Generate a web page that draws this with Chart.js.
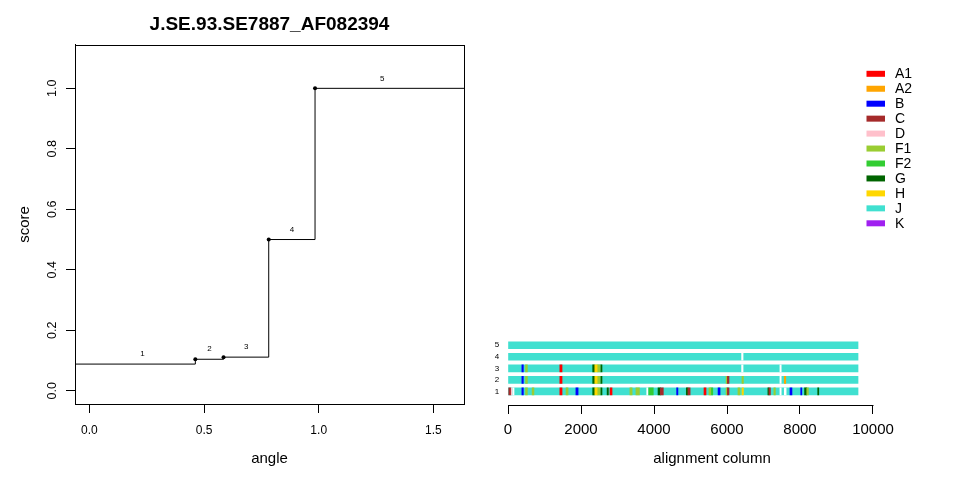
<!DOCTYPE html>
<html><head><meta charset="utf-8">
<script src="https://cdn.jsdelivr.net/npm/chart.js@4.4.1/dist/chart.umd.min.js"></script>
<style>
html,body{margin:0;padding:0;background:#fff;}
#wrap{position:relative;width:960px;height:480px;overflow:hidden;background:#fff;}
.box{position:absolute;top:0;width:480px;height:480px;}
</style></head><body>
<div id="wrap">
<div class="box" style="left:0"><canvas id="c1" width="480" height="480"></canvas></div>
<div class="box" style="left:480px"><canvas id="c2" width="480" height="480"></canvas></div>
</div>
<script>
// ---------- left panel data ----------
const chartTitle = 'J.SE.93.SE7887_AF082394';
const segLabels = ['1', '2', '3', '4', '5'];
const segStart = [0, 0.462, 0.585, 0.782, 0.984];
const segEnd = [0.462, 0.585, 0.782, 0.984, 1.5708];
const segScore = [0.088, 0.104, 0.111, 0.5, 1.0];
const angleTicks = [0, 0.5, 1.0, 1.5];
const angleTickLabels = ['0.0', '0.5', '1.0', '1.5'];
const scoreTicks = [0, 0.2, 0.4, 0.6, 0.8, 1.0];
const scoreTickLabels = ['0.0', '0.2', '0.4', '0.6', '0.8', '1.0'];
const ANGLE_MIN = -0.0628, ANGLE_MAX = 1.6336;
const SCORE_MIN = -0.044, SCORE_MAX = 1.144;

// ---------- right panel data ----------
const subtypes = ['A1', 'A2', 'B', 'C', 'D', 'F1', 'F2', 'G', 'H', 'J', 'K'];
const subtypeColors = ['#FF0000', '#FFA500', '#0000FF', '#A52A2A', '#FFC0CB', '#9ACD32', '#32CD32', '#006400', '#FFD700', '#40E0D0', '#A020F0'];
const rows = [1, 2, 3, 4, 5];
const rowLength = 9590;
const columnTicks = [0, 2000, 4000, 6000, 8000, 10000];
const columnTickLabels = ['0', '2000', '4000', '6000', '8000', '10000'];
const COL_MIN = -447, COL_MAX = 11625;
// [start, end, subtype]   ('gap' = no sequence)
const row1Segments = [
  [20, 70, 'C'], [70, 110, 'D'], [130, 165, 'gap'], [380, 420, 'B'], [480, 530, 'F1'], [660, 710, 'F1'],
  [1420, 1480, 'A1'], [1590, 1645, 'F1'], [1860, 1920, 'B'], [2320, 2360, 'G'], [2360, 2460, 'H'],
  [2460, 2520, 'F1'], [2540, 2575, 'G'], [2715, 2750, 'G'], [2795, 2850, 'A1'], [3340, 3400, 'F1'],
  [3505, 3600, 'F1'], [3800, 3830, 'gap'], [3855, 3980, 'F2'], [4110, 4175, 'G'], [4175, 4255, 'C'],
  [4620, 4655, 'B'], [4885, 4930, 'G'], [4930, 4990, 'C'], [5370, 5425, 'A1'], [5505, 5555, 'F1'],
  [5560, 5610, 'F2'], [5755, 5810, 'B'], [5975, 6010, 'F1'], [6010, 6055, 'C'], [6300, 6355, 'F1'],
  [6410, 6450, 'H'], [7120, 7150, 'G'], [7150, 7190, 'C'], [7285, 7325, 'F1'], [7450, 7485, 'gap'],
  [7570, 7620, 'gap'], [7725, 7780, 'B'], [8020, 8050, 'B'], [8125, 8185, 'G'], [8185, 8230, 'F1'],
  [8485, 8515, 'G']
];
const row2Segments = [
  [380, 420, 'B'], [480, 530, 'F1'], [1420, 1480, 'A1'], [2320, 2360, 'G'], [2360, 2460, 'H'],
  [2460, 2520, 'F1'], [2540, 2575, 'G'], [5975, 6010, 'F1'], [6010, 6055, 'C'], [6410, 6450, 'F1'],
  [7450, 7485, 'gap'], [7570, 7610, 'A2']
];
const row3Segments = [
  [380, 420, 'B'], [480, 530, 'F1'], [1420, 1480, 'A1'], [2320, 2360, 'G'], [2360, 2460, 'H'],
  [2460, 2520, 'F1'], [2540, 2575, 'G'], [6400, 6440, 'gap'], [7450, 7485, 'gap']
];
const row4Segments = [[6400, 6440, 'gap']];
const row5Segments = [];

Chart.defaults.font.family = "'Liberation Sans', Arial, Helvetica, sans-serif";
Chart.defaults.color = '#000';

// ---------- plugins ----------
const boxPlugin = {
  id: 'box',
  afterDraw(chart) {
    const {ctx, chartArea: a} = chart;
    ctx.save();
    ctx.strokeStyle = '#000';
    ctx.lineWidth = 1;
    ctx.strokeRect(Math.round(a.left) + 0.5, Math.round(a.top) + 0.5, Math.round(a.right - a.left), Math.round(a.bottom - a.top));
    ctx.restore();
  }
};
const segLabelPlugin = {
  id: 'segLabels',
  afterDatasetsDraw(chart) {
    const {ctx, scales: {x, y}} = chart;
    ctx.save();
    ctx.fillStyle = '#000';
    ctx.font = "8px 'Liberation Sans', Arial, sans-serif";
    ctx.textAlign = 'center';
    ctx.textBaseline = 'middle';
    segLabels.forEach((lab, i) => {
      const px = x.getPixelForValue((segStart[i] + segEnd[i]) / 2);
      const py = y.getPixelForValue(segScore[i]) - 10;
      ctx.fillText(lab, px, py);
    });
    ctx.restore();
  }
};
const axisLinePlugin = {
  id: 'axisLine',
  afterDraw(chart) {
    const {ctx, chartArea: a, scales: {x}} = chart;
    const x1 = Math.round(x.getPixelForValue(columnTicks[0])) + 0.5;
    const x2 = Math.round(x.getPixelForValue(columnTicks[columnTicks.length - 1])) + 0.5;
    const yy = Math.round(a.bottom) + 0.5;
    ctx.save();
    ctx.strokeStyle = '#000';
    ctx.lineWidth = 1;
    ctx.beginPath();
    ctx.moveTo(x1, yy); ctx.lineTo(x2, yy);
    ctx.stroke();
    ctx.restore();
  }
};
const legendPlugin = {
  id: 'rLegend',
  afterDraw(chart) {
    const ctx = chart.ctx;
    const x0 = 386.5, y0 = 73.8, dy = 14.95;
    ctx.save();
    ctx.font = "14px 'Liberation Sans', Arial, sans-serif";
    ctx.textAlign = 'left';
    ctx.textBaseline = 'middle';
    subtypes.forEach((s, i) => {
      const yy = y0 + i * dy;
      ctx.fillStyle = subtypeColors[i];
      ctx.fillRect(x0, yy - 3, 18.5, 6);
      ctx.fillStyle = '#000';
      ctx.fillText(s, x0 + 28.5, yy + 0.5);
    });
    ctx.restore();
  }
};

// ---------- left chart ----------
const stepPoints = [{x: ANGLE_MIN, y: segScore[0]}];
for (let i = 1; i < segStart.length; i++) stepPoints.push({x: segStart[i], y: segScore[i]});
stepPoints.push({x: ANGLE_MAX, y: segScore[segScore.length - 1]});
const pointRadii = stepPoints.map((p, i) => (i === 0 || i === stepPoints.length - 1) ? 0 : 2);

new Chart(document.getElementById('c1'), {
  type: 'line',
  data: {datasets: [{
    data: stepPoints, stepped: 'before', borderColor: '#000', borderWidth: 1,
    pointRadius: pointRadii, pointBackgroundColor: '#000', pointBorderWidth: 0, fill: false
  }]},
  options: {
    responsive: false, animation: false, events: [],
    layout: {padding: {left: 0, right: 16, top: 0, bottom: 0}},
    plugins: {
      legend: {display: false}, tooltip: {enabled: false},
      title: {display: true, text: chartTitle, fullSize: false, color: '#000',
        font: {size: 19, weight: 'bold'}, padding: {top: 13, bottom: 9}}
    },
    scales: {
      x: {
        type: 'linear', min: ANGLE_MIN, max: ANGLE_MAX, offset: false,
        afterBuildTicks: s => { s.ticks = angleTicks.map(v => ({value: v})); },
        ticks: {callback: (v, i) => angleTickLabels[i], font: {size: 12}, padding: 10, maxRotation: 0, autoSkip: false, color: '#000'},
        grid: {drawOnChartArea: false, tickLength: 9, color: '#000'},
        border: {color: '#000', width: 1},
        title: {display: true, text: 'angle', font: {size: 15}, color: '#000', padding: {top: 0, bottom: 12}},
        afterFit: s => { s.height = 76; }
      },
      y: {
        type: 'linear', min: SCORE_MIN, max: SCORE_MAX,
        afterBuildTicks: s => { s.ticks = scoreTicks.map(v => ({value: v})); },
        ticks: {callback: (v, i) => scoreTickLabels[i], font: {size: 12.5}, padding: 5, minRotation: 90, maxRotation: 90, crossAlign: 'center', autoSkip: false, color: '#000'},
        grid: {drawOnChartArea: false, tickLength: 9, color: '#000'},
        border: {color: '#000', width: 1},
        title: {display: true, text: 'score', font: {size: 15}, color: '#000', padding: {top: 16, bottom: 0}},
        afterFit: s => { s.width = 75; }
      }
    }
  },
  plugins: [boxPlugin, segLabelPlugin]
});

// ---------- right chart ----------
const allRows = [row1Segments, row2Segments, row3Segments, row4Segments, row5Segments];
const datasets = [{
  label: 'J-background', order: 10,
  data: rows.map(r => ({y: r, x: [0, rowLength]})),
  backgroundColor: subtypeColors[subtypes.indexOf('J')]
}];
subtypes.forEach((s, k) => {
  const pts = [];
  allRows.forEach((segs, ri) => segs.forEach(sg => { if (sg[2] === s) pts.push({y: rows[ri], x: [sg[0], sg[1]]}); }));
  if (pts.length) datasets.push({label: s, order: 5, data: pts, backgroundColor: subtypeColors[k]});
});
const gapPts = [];
allRows.forEach((segs, ri) => segs.forEach(sg => { if (sg[2] === 'gap') gapPts.push({y: rows[ri], x: [sg[0], sg[1]]}); }));
datasets.push({label: 'gap', order: 1, data: gapPts, backgroundColor: '#FFFFFF'});
datasets.forEach(d => { d.barThickness = 7; d.borderWidth = 0; d.grouped = false; d.borderSkipped = false; });

new Chart(document.getElementById('c2'), {
  type: 'bar',
  data: {datasets},
  options: {
    indexAxis: 'y', responsive: false, animation: false, events: [],
    layout: {padding: {left: 0, right: 27.7, top: 45, bottom: 0}},
    plugins: {legend: {display: false}, tooltip: {enabled: false}},
    scales: {
      x: {
        type: 'linear', min: COL_MIN, max: COL_MAX, offset: false, position: 'bottom',
        afterBuildTicks: s => { s.ticks = columnTicks.map(v => ({value: v})); },
        ticks: {callback: (v, i) => columnTickLabels[i], font: {size: 15}, padding: 7, maxRotation: 0, autoSkip: false, color: '#000'},
        grid: {drawOnChartArea: false, tickLength: 9, color: '#000', offset: false},
        border: {display: false},
        title: {display: true, text: 'alignment column', font: {size: 15}, color: '#000', padding: {top: 0, bottom: 12}},
        afterFit: s => { s.height = 75; }
      },
      y: {
        type: 'linear', min: -0.19, max: 31.1, offset: false, position: 'left',
        afterBuildTicks: s => { s.ticks = rows.map(v => ({value: v})); },
        ticks: {callback: (v, i) => String(rows[i]), font: {size: 8}, mirror: true, padding: 3, autoSkip: false, color: '#000'},
        grid: {display: false, drawTicks: false, offset: false},
        border: {display: false},
        afterFit: s => { s.width = 11.7; }
      }
    }
  },
  plugins: [axisLinePlugin, legendPlugin]
});
</script>
</body></html>
